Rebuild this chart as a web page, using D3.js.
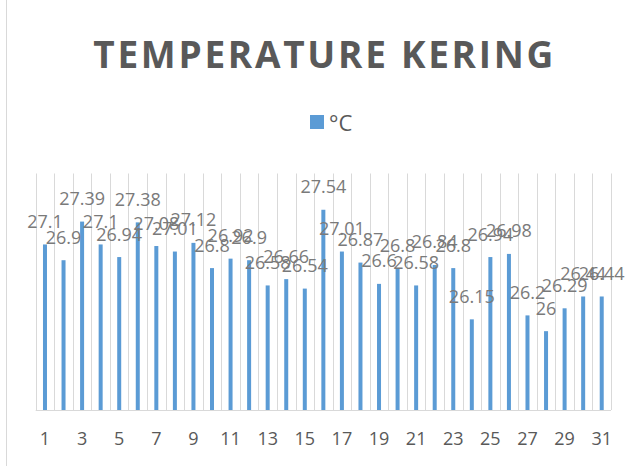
<!DOCTYPE html>
<html>
<head>
<meta charset="utf-8">
<script src="https://cdn.jsdelivr.net/npm/d3@7"></script>
<style>
  html, body { margin: 0; padding: 0; background: #fff; }
  svg { display: block; }
</style>
</head>
<body>
<svg id="chart" width="641" height="466"></svg>
<script>
const title = "TEMPERATURE KERING";
const seriesName = "°C";
const days = d3.range(1, 32);
const temps = [27.1, 26.9, 27.39, 27.1, 26.94, 27.38, 27.08, 27.01, 27.12, 26.8,
               26.92, 26.9, 26.58, 26.66, 26.54, 27.54, 27.01, 26.87, 26.6, 26.8,
               26.58, 26.84, 26.8, 26.15, 26.94, 26.98, 26.2, 26, 26.29, 26.44, 26.44];
const tickLabels = [1, 3, 5, 7, 9, 11, 13, 15, 17, 19, 21, 23, 25, 27, 29, 31];
const yDomain = [25, 28];

const svg = d3.select("#chart");
const W = 641, H = 466;
const plot = { left: 35.7, right: 611, top: 173.5, bottom: 410 };
const barColor = "#5B9BD5";
const gridColor = "#d9d9d9";

// chart border (left edge visible)
svg.append("line").attr("x1", 6.5).attr("x2", 6.5).attr("y1", 0).attr("y2", H)
  .attr("stroke", gridColor).attr("stroke-width", 1);

const x = d3.scaleBand().domain(days).range([plot.left, plot.right]).padding(0);
const y = d3.scaleLinear().domain(yDomain).range([plot.bottom, plot.top]);

// vertical category gridlines at band boundaries
const bounds = days.map(d => x(d)).concat([x(days[days.length - 1]) + x.bandwidth()]);
svg.append("g").selectAll("line").data(bounds).join("line")
  .attr("x1", d => Math.round(d) + 0.5).attr("x2", d => Math.round(d) + 0.5)
  .attr("y1", plot.top).attr("y2", plot.bottom)
  .attr("stroke", gridColor).attr("stroke-width", 1);

// bars
const bw = 4;
svg.append("g").selectAll("rect").data(temps).join("rect")
  .attr("x", (d, i) => x(days[i]) + x.bandwidth() / 2 - bw / 2)
  .attr("y", d => y(d))
  .attr("width", bw)
  .attr("height", d => y(yDomain[0]) - y(d))
  .attr("fill", barColor);

// x axis line
svg.append("line").attr("x1", plot.left).attr("x2", plot.right)
  .attr("y1", plot.bottom + 0.5).attr("y2", plot.bottom + 0.5)
  .attr("stroke", gridColor).attr("stroke-width", 1);

// x axis labels
const xAxis = d3.axisBottom(x).tickValues(tickLabels).tickSize(0).tickPadding(0);
const gx = svg.append("g").attr("transform", `translate(0,${plot.bottom})`).call(xAxis);
gx.select(".domain").remove();
gx.selectAll("text")
  .attr("dy", null)
  .attr("y", 35)
  .attr("fill", "#595959")
  .style("font-family", "'Open Sans', sans-serif")
  .style("font-size", "18px");

// data labels
svg.append("g").selectAll("text").data(temps).join("text")
  .attr("x", (d, i) => x(days[i]) + x.bandwidth() / 2)
  .attr("y", d => y(d) - 16.5)
  .attr("text-anchor", "middle")
  .attr("fill", "#7a7a7a")
  .style("font-family", "'Open Sans', sans-serif")
  .style("font-size", "18px")
  .text(d => d);

// title
svg.append("text")
  .attr("x", 323.3).attr("y", 68.3)
  .attr("text-anchor", "middle")
  .attr("fill", "#595959")
  .attr("textLength", 460)
  .attr("lengthAdjust", "spacing")
  .style("font-family", "'Open Sans', sans-serif")
  .style("font-weight", "bold")
  .style("font-size", "37px")
  .text(title);

// legend
svg.append("rect").attr("x", 310).attr("y", 115).attr("width", 14).attr("height", 14)
  .attr("fill", barColor);
svg.append("text").attr("x", 329).attr("y", 130.5)
  .attr("fill", "#595959")
  .style("font-family", "'Open Sans', sans-serif")
  .style("font-size", "22px")
  .text(seriesName);
</script>
</body>
</html>
